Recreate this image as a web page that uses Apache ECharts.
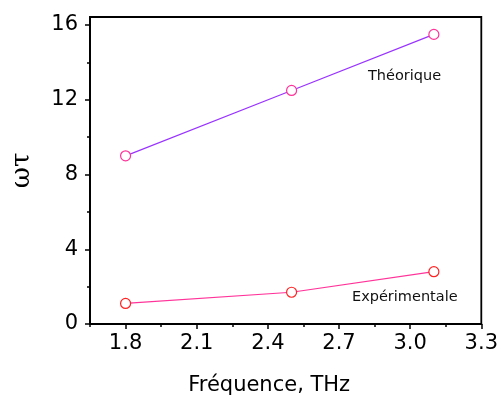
<!DOCTYPE html>
<html><head><meta charset="utf-8">
<script src="https://cdn.jsdelivr.net/npm/echarts@6/dist/echarts.min.js"></script>
<style>html,body{margin:0;padding:0;background:#fff}#c{width:501px;height:401px}</style>
</head><body><div id="c"></div>
<script>
var freq = [1.8, 2.5, 3.1];
var theorique = [9.0, 12.5, 15.5];
var experimentale = [1.1, 1.7, 2.8];
var xMajor = [1.8, 2.1, 2.4, 2.7, 3.0, 3.3];
var xMinor = [1.65, 1.95, 2.25, 2.55, 2.85, 3.15];
var yMajor = [0, 4, 8, 12, 16];
var yMinor = [2, 6, 10, 14];

var font = 'DejaVu Sans, sans-serif';
var chart = echarts.init(document.getElementById('c'));
function pairs(xs, ys){ return xs.map(function(x,i){return [x, ys[i]];}); }
chart.setOption({
  animation: false,
  grid: {left: 90, right: 18, top: 17, bottom: 77, show: true, borderColor: '#000', borderWidth: 1.8, backgroundColor: 'transparent'},
  xAxis: [{
    type: 'value', min: 1.65, max: 3.3, position: 'bottom',
    axisLine: {show: true, lineStyle: {color: '#000', width: 1.8}},
    axisTick: {show: true, customValues: xMajor, length: 5, inside: false, lineStyle: {color: '#000', width: 1.5}},
    axisLabel: {customValues: xMajor, color: '#000', fontSize: 21, fontFamily: font, margin: 9,
      formatter: function(v){ return v.toFixed(1); }},
    splitLine: {show: false},
    name: 'Fréquence, THz', nameLocation: 'middle', nameGap: 51,
    nameTextStyle: {color: '#000', fontSize: 21, fontFamily: font, padding: [0, 33, 0, 0]}
  }, {
    type: 'value', min: 1.65, max: 3.3, position: 'bottom',
    axisLine: {show: false},
    axisTick: {show: true, customValues: xMinor, length: 3, lineStyle: {color: '#000', width: 1.5}},
    axisLabel: {show: false}, splitLine: {show: false}
  }],
  yAxis: [{
    type: 'value', min: 0, max: 16.43, position: 'left',
    axisLine: {show: true, lineStyle: {color: '#000', width: 1.8}},
    axisTick: {show: true, customValues: yMajor, length: 5, lineStyle: {color: '#000', width: 1.5}},
    axisLabel: {customValues: yMajor, color: '#000', fontSize: 21, fontFamily: font, margin: 12},
    splitLine: {show: false},
    name: 'ωτ', nameLocation: 'middle', nameGap: 55, nameRotate: 90,
    nameTextStyle: {color: '#000', fontSize: 26, fontFamily: 'DejaVu Serif, serif'}
  }, {
    type: 'value', min: 0, max: 16.43, position: 'left',
    axisLine: {show: false},
    axisTick: {show: true, customValues: yMinor, length: 3, lineStyle: {color: '#000', width: 1.5}},
    axisLabel: {show: false}, splitLine: {show: false}
  }],
  series: [{
    name: 'Théorique', type: 'line', data: pairs(freq, theorique),
    symbol: 'circle', symbolSize: 10,
    lineStyle: {color: '#9933ff', width: 1.2},
    itemStyle: {color: '#fff', borderColor: '#ff3399', borderWidth: 1.2}
  }, {
    name: 'Expérimentale', type: 'line', data: pairs(freq, experimentale),
    symbol: 'circle', symbolSize: 10,
    lineStyle: {color: '#ff3399', width: 1.2},
    itemStyle: {color: '#fff', borderColor: '#ff2222', borderWidth: 1.2}
  }],
  graphic: [
    {type: 'text', left: 368, top: 69, style: {text: 'Théorique', fontSize: 14.5, fontFamily: font, fill: '#111'}},
    {type: 'text', left: 352, top: 290, style: {text: 'Expérimentale', fontSize: 14.5, fontFamily: font, fill: '#111'}}
  ]
});
</script></body></html>
